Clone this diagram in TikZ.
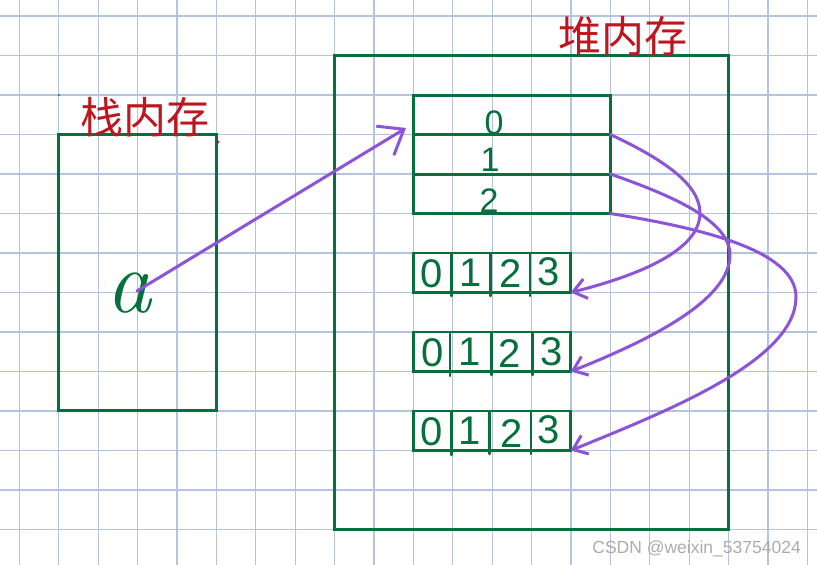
\documentclass[tikz,border=0pt]{standalone}
\usepackage{fontspec}
\newfontfamily\sansf{Liberation Sans}
\newfontfamily\cjk{Noto Sans CJK SC}
\usetikzlibrary{arrows.meta}
\definecolor{gridc}{RGB}{180,196,224}
\definecolor{ink}{RGB}{6,112,60}
\definecolor{pen}{RGB}{140,84,214}
\definecolor{redink}{RGB}{190,22,30}
\begin{document}
\begin{tikzpicture}[x=1pt,y=-1pt,
  gridline/.style={gridc,line width=1.2pt},
  box/.style={draw=ink,line width=3pt,rectangle,inner sep=0pt,outer sep=0pt},
  cellbox/.style={box,line width=2.6pt,minimum width=157.4pt,minimum height=39.5pt},
  rowbox/.style={box,minimum width=197pt,minimum height=39.5pt},
  cellline/.style={ink,line width=2.5pt,line cap=round},
  ptr/.style={pen,line width=3pt,line cap=round,-{Straight Barb[length=13pt,width=20pt,line width=3pt]}},
  digit/.style={text=ink,font=\sansf\fontsize{40}{40}\selectfont,inner sep=0pt},
  idx/.style={text=ink,font=\sansf\fontsize{34}{34}\selectfont,inner sep=0pt},
  title/.style={text=redink,font=\cjk\fontsize{43}{43}\selectfont,inner sep=0pt}]
\fill[white] (0,0) rectangle (817,565);
\useasboundingbox (0,0) rectangle (817,565);
\foreach \k in {0,...,20} \draw[gridline] ({19.3+39.4*\k},0) -- ({19.3+39.4*\k},565);
\foreach \k in {0,...,13} \draw[gridline] (0,{16+39.5*\k}) -- (817,{16+39.5*\k});
% memory areas
\node[box,minimum width=158pt,minimum height=275.5pt] (stack) at (137.7,272.25) {};
\node[box,minimum width=393.8pt,minimum height=473.5pt] (heap) at (531.4,292.25) {};
\node[title] (stacklbl) at (145,117) {栈内存};
\node[title] (heaplbl) at (623,36) {堆内存};
\fill[ink] (59,95) circle (1pt);
\fill[redink] (218,142) circle (1.6pt);
% variable a
\node[text=ink,font=\fontsize{90}{90}\selectfont\itshape,inner sep=0pt] (a) at (129,293) {a};
% outer array
\node[rowbox] (r0) at (511.8,114.75) {};
\node[rowbox] (r1) at (511.8,154.25) {};
\node[rowbox] (r2) at (511.8,193.75) {};
\node[idx] (i0) at (494,123) {0};
\node[idx] (i1) at (490,160) {1};
\node[idx] (i2) at (489,201) {2};
% inner arrays
\node[cellbox] (s1) at (492,272.75) {};
\node[cellbox] (s2) at (492,351.75) {};
\node[cellbox] (s3) at (492,430.75) {};
\draw[cellline] (451.7,254) -- (451.7,296);
\draw[cellline] (490.7,254) -- (490.7,296);
\draw[cellline] (530,254) -- (530,296);
\draw[cellline] (450,333) -- (450,376);
\draw[cellline] (491.7,333) -- (491.7,375);
\draw[cellline] (532.7,333) -- (532.7,375);
\draw[cellline] (451.7,412) -- (451.7,455);
\draw[cellline] (489.3,412) -- (489.3,454);
\draw[cellline] (531,412) -- (531,454);
\node[digit] (a10) at (432,274) {0};
\node[digit] (a11) at (471,273) {1};
\node[digit] (a12) at (511,274) {2};
\node[digit] (a13) at (549,272) {3};
\node[digit] (a20) at (433,353) {0};
\node[digit] (a21) at (470,352) {1};
\node[digit] (a22) at (510,354) {2};
\node[digit] (a23) at (552,352) {3};
\node[digit] (a30) at (432,432) {0};
\node[digit] (a31) at (470,431) {1};
\node[digit] (a32) at (512,434) {2};
\node[digit] (a33) at (549,430) {3};
% pointers
\coordinate (astart) at (137,291);
\coordinate (atip) at (406,128);
\draw[pen,line width=3pt,line cap=round,-{Straight Barb[length=22pt,width=34pt,line width=3pt]}] (astart) -- (atip);
\draw[ptr] (r0.south east) .. controls (665,160) and (700,185) .. (700,213) .. controls (700,250) and (640,275) .. (s1.south east);
\draw[ptr] (r1.south east) .. controls (670,195) and (730,220) .. (730,255) .. controls (730,300) and (650,340) .. (s2.south east);
\draw[ptr] (r2.south east) .. controls (700,228) and (796,250) .. (796,297) .. controls (796,360) and (670,410) .. (s3.south east);
% watermark
\node[anchor=base east,text=gray!65,font=\sansf\fontsize{17.5}{17.5}\selectfont,inner sep=0pt] (wm) at (801,553) {CSDN @weixin\_53754024};
\end{tikzpicture}
\end{document}
